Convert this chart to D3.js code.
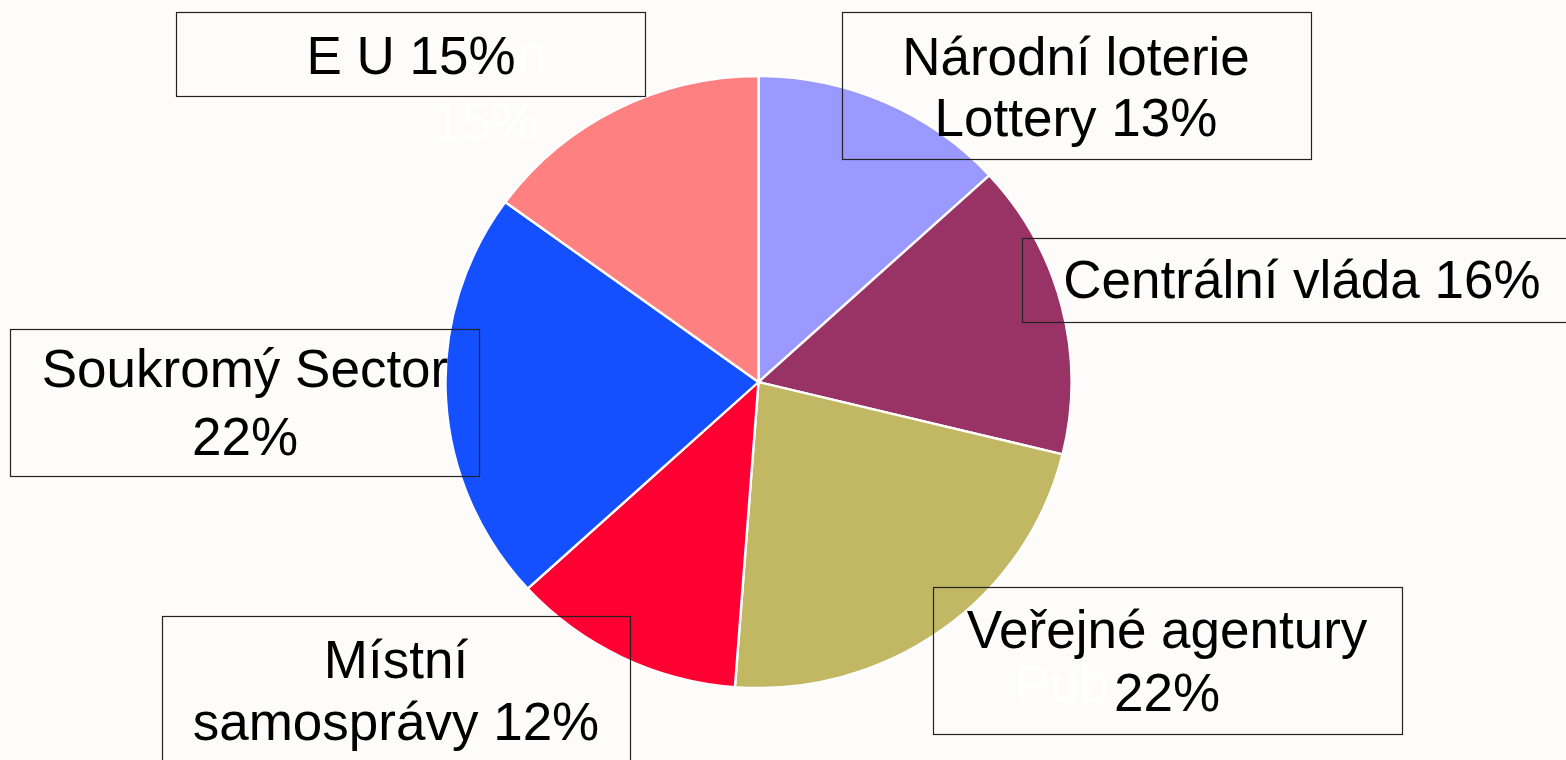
<!DOCTYPE html>
<html>
<head>
<meta charset="utf-8">
<script src="https://cdn.jsdelivr.net/npm/d3@7"></script>
<style>
  html, body { margin: 0; padding: 0; background: #FDFCFA; overflow: hidden; }
  svg { display: block; }
</style>
</head>
<body>
<script>
// ---- data ----
const categories = ["Národní loterie", "Centrální vláda", "Veřejné agentury", "Místní samosprávy", "Soukromý Sector", "E U"];
const values = [13.2, 15.6, 22.4, 12.0, 21.8, 15.0];
const sliceColors = ["#9999FF", "#993366", "#C2B864", "#FF0033", "#1450FF", "#FF8080"];
const labelLines = [
  ["Národní loterie", "Lottery 13%"],
  ["Centrální vláda 16%"],
  ["Veřejné agentury", "22%"],
  ["Místní", "samosprávy 12%"],
  ["Soukromý Sector", "22%"],
  ["E U 15%"]
];
const ghostTexts = ["Pub", "15%", "n"];

// ---- layout ----
const W = 1566, H = 760;
const cx = 758.5, cy = 382, rx = 313, ry = 306;
const fontSize = 53;
const boxes = [
  { x: 842, y: 12, w: 469, h: 147, tx: 1076, base: [75, 136] },
  { x: 1022, y: 238, w: 600, h: 84, tx: 1302, base: [298] },
  { x: 933, y: 587, w: 469, h: 147, tx: 1167, base: [648, 711] },
  { x: 162, y: 616, w: 468, h: 200, tx: 396, base: [678, 740] },
  { x: 10, y: 329, w: 469, h: 147, tx: 245, base: [387, 455] },
  { x: 176, y: 12, w: 469, h: 84, tx: 411, base: [74] }
];
const ghostPos = [
  { x: 1015, y: 702, anchor: "start" },
  { x: 485, y: 140, anchor: "middle" },
  { x: 517, y: 72, anchor: "start" }
];

const svg = d3.select("body").append("svg")
  .attr("width", W).attr("height", H);

svg.append("rect").attr("width", W).attr("height", H).attr("fill", "#FDFCFA");

const pie = d3.pie().sort(null).value(d => d)(values);
const arc = d3.arc().innerRadius(0).outerRadius(rx);

const g = svg.append("g")
  .attr("transform", `translate(${cx},${cy}) scale(1,${ry / rx})`);

g.selectAll("path.slice")
  .data(pie)
  .join("path")
  .attr("class", "slice")
  .attr("d", arc)
  .attr("fill", (d, i) => sliceColors[i])
  .attr("stroke", "#FFFFFF")
  .attr("stroke-width", 2.4)
  .attr("stroke-linejoin", "round");

// faint ghost labels (white on near-white)
svg.selectAll("text.ghost")
  .data(ghostTexts)
  .join("text")
  .attr("class", "ghost")
  .attr("x", (d, i) => ghostPos[i].x)
  .attr("y", (d, i) => ghostPos[i].y)
  .attr("text-anchor", (d, i) => ghostPos[i].anchor)
  .attr("font-family", "Liberation Sans, Arial, sans-serif")
  .attr("font-size", fontSize)
  .attr("fill", "#FFFFFF")
  .text(d => d);

// label boxes
const lg = svg.selectAll("g.label")
  .data(categories)
  .join("g")
  .attr("class", "label");

lg.append("rect")
  .attr("x", (d, i) => boxes[i].x + 0.5)
  .attr("y", (d, i) => boxes[i].y + 0.5)
  .attr("width", (d, i) => boxes[i].w)
  .attr("height", (d, i) => boxes[i].h)
  .attr("fill", "none")
  .attr("stroke", "#222222")
  .attr("stroke-width", 1.2);

lg.each(function (d, i) {
  const sel = d3.select(this);
  labelLines[i].forEach((line, k) => {
    sel.append("text")
      .attr("x", boxes[i].tx)
      .attr("y", boxes[i].base[k])
      .attr("text-anchor", "middle")
      .attr("font-family", "Liberation Sans, Arial, sans-serif")
      .attr("font-size", fontSize)
      .attr("fill", "#000000")
      .text(line);
  });
});
</script>
</body>
</html>
